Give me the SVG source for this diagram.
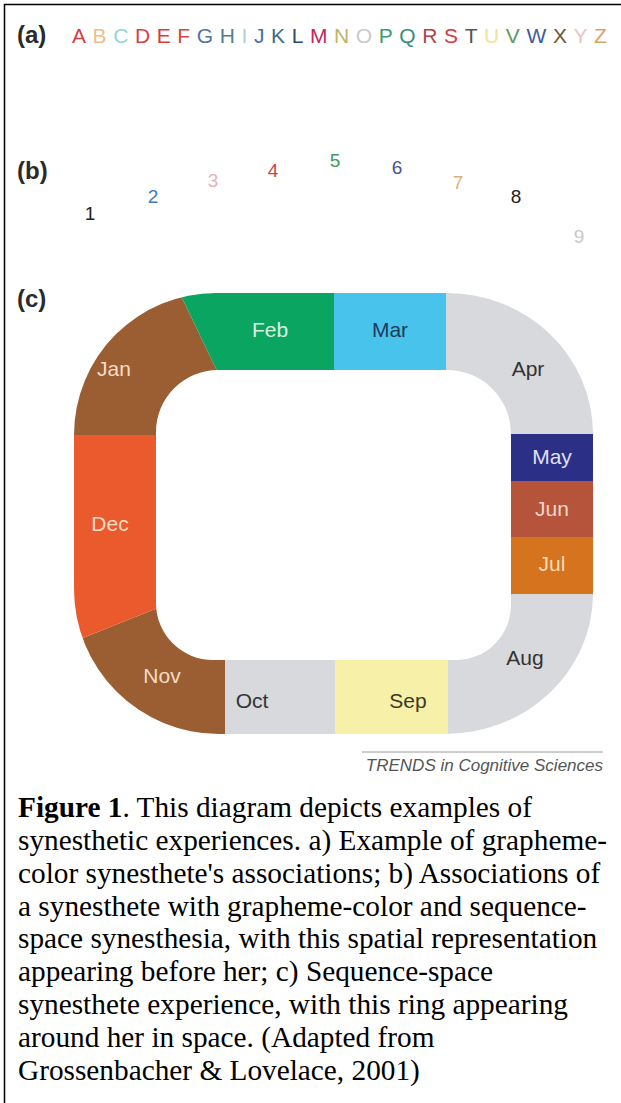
<svg xmlns="http://www.w3.org/2000/svg" width="621" height="1103" viewBox="0 0 621 1103">
<style>
.lbl{font-family:"Liberation Sans",Arial,Helvetica,sans-serif;font-size:21px;text-anchor:middle}
.hd{font-family:"Liberation Sans",Arial,Helvetica,sans-serif;font-size:24px;font-weight:bold;fill:#2a2a2a}
.num{font-family:"Liberation Sans",Arial,Helvetica,sans-serif;font-size:19px;text-anchor:middle}
.cap{font-family:"Liberation Serif","Times New Roman",serif;font-size:29.3px;fill:#000}
.gray{fill:#d8d9dc}
.brown{fill:#9b5e33}
.light{fill:#f6dcc4}
.dark{fill:#333333}
</style>
<defs>
<clipPath id="ringClip">
<path clip-rule="evenodd" d="M216,293 H447 A146 141 0 0 1 593 434 V594 A148 140 0 0 1 445 734 H219 A145 145 0 0 1 74 589 V435 A142 142 0 0 1 216 293 Z M218,370 H447 A64 64 0 0 1 511 434 V605 A55 55 0 0 1 456 660 H213 A57 57 0 0 1 156 603 V432 A62 62 0 0 1 218 370 Z"/>
</clipPath>
</defs>
<rect width="621" height="1103" fill="#ffffff"/>
<path d="M4.5,1103 V4.5 H621" fill="none" stroke="#000" stroke-width="1.5"/>

<g id="panel-a">
<text class="hd" x="17" y="43">(a)</text>
<text x="72" y="43" font-family="Liberation Sans,Arial,Helvetica,sans-serif" font-size="21" letter-spacing="6.6"><tspan fill="#d1414a">A</tspan><tspan fill="#ecbf86">B</tspan><tspan fill="#92d6d8">C</tspan><tspan fill="#d6434a">D</tspan><tspan fill="#d43e42">E</tspan><tspan fill="#d5453e">F</tspan><tspan fill="#4f74a6">G</tspan><tspan fill="#527f8c">H</tspan><tspan fill="#a9d3de">I</tspan><tspan fill="#3f70aa">J</tspan><tspan fill="#3d6a8c">K</tspan><tspan fill="#2e4a78">L</tspan><tspan fill="#c2275c">M</tspan><tspan fill="#c0b46a">N</tspan><tspan fill="#c9c9cb">O</tspan><tspan fill="#3e9b6b">P</tspan><tspan fill="#3b8b7c">Q</tspan><tspan fill="#ad4646">R</tspan><tspan fill="#d4393c">S</tspan><tspan fill="#555555">T</tspan><tspan fill="#f1e297">U</tspan><tspan fill="#5b9b5d">V</tspan><tspan fill="#3c5c9b">W</tspan><tspan fill="#6b5a3c">X</tspan><tspan fill="#eac2ca">Y</tspan><tspan fill="#d9a465">Z</tspan></text>
</g>

<g id="panel-b">
<text class="hd" x="17" y="179">(b)</text>
<text class="num" x="90" y="220" fill="#222">1</text>
<text class="num" x="153" y="203" fill="#3b7dc4">2</text>
<text class="num" x="213" y="187" fill="#eab0b8">3</text>
<text class="num" x="273" y="177" fill="#c94545">4</text>
<text class="num" x="335" y="167" fill="#3f9b5a">5</text>
<text class="num" x="397" y="174" fill="#4b4f96">6</text>
<text class="num" x="458" y="189" fill="#dcb07c">7</text>
<text class="num" x="516" y="203" fill="#222">8</text>
<text class="num" x="579" y="243" fill="#c8c8cc">9</text>
</g>

<g id="panel-c">
<text class="hd" x="17" y="307">(c)</text>
</g>

<g id="ring" clip-path="url(#ringClip)">
<g id="jan"><polygon class="brown" points="40,435 40,250 159,250 231,400 231,435"/></g>
<g id="feb"><polygon fill="#0aa560" points="159,250 334,250 334,400 231,400"/></g>
<g id="mar"><polygon fill="#47c3ec" points="334,250 446,250 446,400 334,400"/></g>
<g id="apr"><polygon class="gray" points="446,250 640,250 640,434 446,434"/></g>
<g id="may"><polygon fill="#2b2f85" points="480,434 640,434 640,481 480,481"/></g>
<g id="jun"><polygon fill="#b5543b" points="480,481 640,481 640,537 480,537"/></g>
<g id="jul"><polygon fill="#d6731f" points="480,537 640,537 640,594 480,594"/></g>
<g id="aug"><polygon class="gray" points="448,594 640,594 640,780 448,780"/></g>
<g id="sep"><polygon fill="#f7f0a8" points="335,600 448,600 448,780 335,780"/></g>
<g id="oct"><polygon class="gray" points="225,600 335,600 335,780 225,780"/></g>
<g id="nov"><polygon class="brown" points="40,655 225,581 225,780 40,780"/></g>
<g id="dec"><polygon fill="#ea5a2c" points="40,435 225,435 225,581 40,655"/></g>
</g>

<g id="labels">
<text class="lbl light" x="114" y="376">Jan</text>
<text class="lbl" x="270" y="337" fill="#d9f3e0">Feb</text>
<text class="lbl" x="390" y="337" fill="#1e3b5c">Mar</text>
<text class="lbl dark" x="528" y="376">Apr</text>
<text class="lbl" x="552" y="464" fill="#e0e0f6">May</text>
<text class="lbl" x="552" y="516" fill="#f6d4c6">Jun</text>
<text class="lbl" x="552" y="571" fill="#f8ddb4">Jul</text>
<text class="lbl dark" x="525" y="665">Aug</text>
<text class="lbl" x="408" y="708" fill="#3a3a28">Sep</text>
<text class="lbl dark" x="252" y="708">Oct</text>
<text class="lbl light" x="162" y="683">Nov</text>
<text class="lbl light" x="110" y="531">Dec</text>
</g>

<g id="source">
<line x1="362" y1="752" x2="603" y2="752" stroke="#9a9a9a" stroke-width="1"/>
<text x="603" y="771" font-family="Liberation Sans,Arial,Helvetica,sans-serif" font-size="17" font-style="italic" fill="#555" text-anchor="end">TRENDS in Cognitive Sciences</text>
</g>

<g id="caption" class="cap">
<text class="cap" x="18" y="817"><tspan font-weight="bold">Figure 1</tspan>. This diagram depicts examples of</text>
<text class="cap" x="18" y="850">synesthetic experiences. a) Example of grapheme-</text>
<text class="cap" x="18" y="883">color synesthete's associations; b) Associations of</text>
<text class="cap" x="18" y="916">a synesthete with grapheme-color and sequence-</text>
<text class="cap" x="18" y="948">space synesthesia, with this spatial representation</text>
<text class="cap" x="18" y="981">appearing before her; c) Sequence-space</text>
<text class="cap" x="18" y="1014">synesthete experience, with this ring appearing</text>
<text class="cap" x="18" y="1047">around her in space. (Adapted from</text>
<text class="cap" x="18" y="1080">Grossenbacher &amp; Lovelace, 2001)</text>
</g>
</svg>
